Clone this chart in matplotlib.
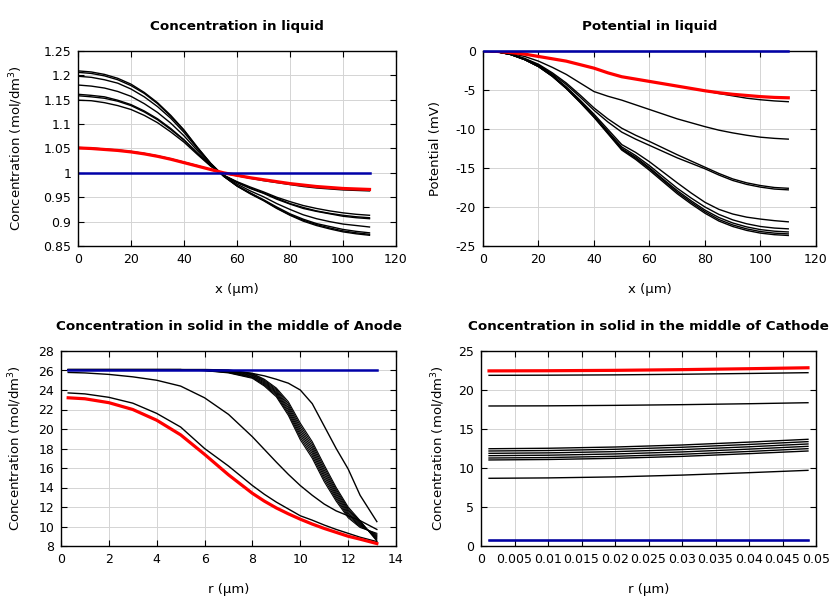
import matplotlib
matplotlib.use("Agg")
import matplotlib.pyplot as plt
from matplotlib.ticker import FuncFormatter

plt.rcParams['font.family'] = ['DejaVu Sans']
plt.rcParams['axes.unicode_minus'] = False

# ---------------- Panel 1: Concentration in liquid ----------------
x_liq = [0.5, 5, 10, 15, 20, 25, 30, 35, 40, 45, 50, 55, 60, 65, 70, 75, 80, 85, 90, 95, 100, 105, 110]
cl_a = [1.209, 1.207, 1.202, 1.194, 1.182, 1.165, 1.144, 1.118, 1.088, 1.053, 1.020,
        0.993, 0.973, 0.957, 0.943, 0.927, 0.913, 0.901, 0.892, 0.885, 0.879, 0.875, 0.872]
cl_b = [1.206, 1.204, 1.199, 1.191, 1.179, 1.163, 1.142, 1.116, 1.087, 1.052, 1.020,
        0.993, 0.973, 0.958, 0.944, 0.928, 0.914, 0.903, 0.894, 0.887, 0.881, 0.877, 0.874]
cl_c = [1.198, 1.196, 1.191, 1.184, 1.172, 1.156, 1.136, 1.112, 1.083, 1.050, 1.019,
        0.993, 0.974, 0.959, 0.945, 0.930, 0.916, 0.905, 0.896, 0.890, 0.884, 0.880, 0.877]
cl_d = [1.180, 1.178, 1.174, 1.167, 1.157, 1.142, 1.124, 1.102, 1.076, 1.046, 1.017,
        0.994, 0.977, 0.963, 0.951, 0.937, 0.925, 0.914, 0.906, 0.900, 0.895, 0.892, 0.889]
cl_e = [1.161, 1.159, 1.156, 1.149, 1.140, 1.127, 1.111, 1.091, 1.068, 1.041, 1.015,
        0.995, 0.980, 0.968, 0.958, 0.946, 0.936, 0.927, 0.921, 0.916, 0.911, 0.908, 0.906]
cl_f = [1.158, 1.156, 1.153, 1.147, 1.138, 1.125, 1.109, 1.089, 1.067, 1.040, 1.015,
        0.995, 0.981, 0.969, 0.959, 0.948, 0.937, 0.929, 0.922, 0.917, 0.913, 0.910, 0.908]
cl_g = [1.149, 1.148, 1.144, 1.138, 1.130, 1.118, 1.103, 1.084, 1.063, 1.038, 1.014,
        0.995, 0.982, 0.971, 0.961, 0.950, 0.941, 0.933, 0.927, 0.922, 0.918, 0.915, 0.913]
cl_h = [1.052, 1.051, 1.049, 1.047, 1.044, 1.040, 1.035, 1.029, 1.022, 1.015, 1.007,
        0.999, 0.994, 0.989, 0.984, 0.980, 0.976, 0.972, 0.969, 0.967, 0.965, 0.964, 0.963]
cl_red = [1.051, 1.050, 1.048, 1.046, 1.043, 1.039, 1.034, 1.028, 1.021, 1.014, 1.007,
          1.000, 0.995, 0.990, 0.986, 0.982, 0.978, 0.975, 0.972, 0.970, 0.968, 0.967, 0.966]
cl_blue_x = [0.5, 110]
cl_blue = [1.0, 1.0]

# ---------------- Panel 2: Potential in liquid ----------------
pl_red = [0, -0.05, -0.2, -0.4, -0.7, -1.0, -1.3, -1.75, -2.2, -2.8, -3.3,
          -3.6, -3.9, -4.2, -4.5, -4.8, -5.1, -5.35, -5.55, -5.7, -5.85, -5.95, -6.0]
pl_1 = [0, -0.05, -0.2, -0.4, -0.7, -1.0, -1.3, -1.75, -2.2, -2.8, -3.3,
        -3.6, -3.9, -4.2, -4.5, -4.8, -5.1, -5.45, -5.75, -6.05, -6.25, -6.4, -6.5]
pl_2 = [0, -0.07, -0.3, -0.7, -1.3, -2.1, -3.0, -4.1, -5.2, -5.8, -6.3,
        -6.9, -7.5, -8.1, -8.7, -9.2, -9.7, -10.15, -10.5, -10.8, -11.05, -11.2, -11.3]
pl_3 = [0, -0.1, -0.38, -0.95, -1.7, -2.8, -4.1, -5.65, -7.3, -8.7, -9.9,
        -10.8, -11.6, -12.45, -13.3, -14.1, -14.9, -15.7, -16.4, -16.9, -17.25, -17.5, -17.6]
pl_4 = [0, -0.1, -0.4, -1.0, -1.8, -2.95, -4.3, -5.9, -7.6, -9.1, -10.4,
        -11.3, -12.1, -12.9, -13.7, -14.4, -15.1, -15.9, -16.6, -17.1, -17.45, -17.7, -17.8]
pl_5 = [0, -0.1, -0.45, -1.05, -1.9, -3.1, -4.6, -6.3, -8.1, -10.05, -12.0,
        -13.0, -14.2, -15.55, -16.9, -18.2, -19.4, -20.3, -20.9, -21.3, -21.55, -21.75, -21.9]
pl_6 = [0, -0.1, -0.45, -1.1, -1.95, -3.15, -4.7, -6.4, -8.3, -10.3, -12.3,
        -13.4, -14.7, -16.15, -17.6, -18.85, -20.0, -20.95, -21.65, -22.15, -22.5, -22.7, -22.8]
pl_7 = [0, -0.1, -0.45, -1.1, -2.0, -3.2, -4.75, -6.5, -8.4, -10.45, -12.5,
        -13.6, -14.95, -16.45, -17.9, -19.2, -20.4, -21.35, -22.05, -22.55, -22.9, -23.1, -23.2]
pl_8 = [0, -0.1, -0.45, -1.1, -2.0, -3.25, -4.8, -6.55, -8.45, -10.5, -12.6,
        -13.75, -15.1, -16.6, -18.1, -19.4, -20.6, -21.6, -22.3, -22.8, -23.15, -23.35, -23.45]
pl_9 = [0, -0.1, -0.45, -1.1, -2.0, -3.25, -4.8, -6.6, -8.5, -10.6, -12.7,
        -13.9, -15.3, -16.8, -18.3, -19.6, -20.8, -21.8, -22.5, -23.0, -23.35, -23.55, -23.65]
pl_blue_x = [0.5, 110]
pl_blue = [0.0, 0.0]

# ---------------- Panel 3: Anode solid ----------------
r_an = [0.3, 1, 2, 3, 4, 5, 6, 7, 8, 8.5, 9, 9.5, 10, 10.5, 11, 11.5, 12, 12.5, 13.2]
an_b1 = [26.1, 26.1, 26.1, 26.1, 26.1, 26.1, 26.08, 26.00, 25.70, 25.10, 24.20, 22.80, 20.60, 18.70, 16.30, 14.00, 12.00, 10.60, 8.50]
an_b2 = [26.1, 26.1, 26.1, 26.1, 26.1, 26.1, 26.07, 25.96, 25.63, 25.00, 24.07, 22.60, 20.36, 18.46, 16.06, 13.80, 11.84, 10.50, 8.61]
an_b3 = [26.1, 26.1, 26.1, 26.1, 26.1, 26.1, 26.05, 25.93, 25.56, 24.90, 23.94, 22.40, 20.11, 18.21, 15.81, 13.60, 11.69, 10.40, 8.73]
an_b4 = [26.1, 26.1, 26.1, 26.1, 26.1, 26.1, 26.04, 25.89, 25.49, 24.80, 23.81, 22.20, 19.87, 17.97, 15.57, 13.40, 11.53, 10.30, 8.84]
an_b5 = [26.1, 26.1, 26.1, 26.1, 26.1, 26.1, 26.02, 25.86, 25.41, 24.70, 23.69, 22.00, 19.63, 17.73, 15.33, 13.20, 11.37, 10.20, 8.96]
an_b6 = [26.1, 26.1, 26.1, 26.1, 26.1, 26.1, 26.01, 25.82, 25.34, 24.60, 23.56, 21.80, 19.39, 17.49, 15.09, 13.00, 11.21, 10.10, 9.07]
an_b7 = [26.1, 26.1, 26.1, 26.1, 26.1, 26.1, 26.00, 25.79, 25.27, 24.50, 23.43, 21.60, 19.14, 17.24, 14.84, 12.80, 11.06, 10.00, 9.19]
an_b8 = [26.1, 26.1, 26.1, 26.1, 26.1, 26.1, 25.98, 25.75, 25.20, 24.40, 23.30, 21.40, 18.90, 17.00, 14.60, 12.60, 10.90, 9.90, 9.30]
an_right = [26.1, 26.1, 26.1, 26.1, 26.1, 26.1, 26.1, 26.05, 25.7, 25.45, 25.1, 24.7, 24.0, 22.6, 20.3, 18.0, 15.9, 13.2, 10.5]
an_mid = [25.8, 25.75, 25.6, 25.35, 25.0, 24.4, 23.2, 21.5, 19.2, 17.9, 16.6, 15.35, 14.2, 13.2, 12.3, 11.6, 11.1, 10.6, 9.7]
an_low = [23.7, 23.6, 23.25, 22.65, 21.6, 20.2, 18.0, 16.2, 14.2, 13.3, 12.5, 11.8, 11.1, 10.65, 10.15, 9.7, 9.3, 8.9, 8.45]
an_red = [23.2, 23.1, 22.7, 22.0, 20.9, 19.4, 17.4, 15.3, 13.4, 12.6, 11.9, 11.3, 10.75, 10.25, 9.8, 9.4, 9.0, 8.7, 8.25]
an_blue_x = [0.3, 13.2]
an_blue = [26.1, 26.1]

# ---------------- Panel 4: Cathode solid ----------------
r_ca = [0.0012, 0.01, 0.02, 0.03, 0.04, 0.0488]
ca_red = [22.45, 22.47, 22.52, 22.61, 22.73, 22.85]
ca_1 = [21.88, 21.90, 21.94, 22.02, 22.12, 22.22]
ca_2 = [17.95, 17.97, 18.03, 18.12, 18.24, 18.37]
ca_3 = [12.47, 12.53, 12.69, 12.95, 13.32, 13.68]
ca_4 = [12.18, 12.24, 12.40, 12.66, 13.02, 13.38]
ca_5 = [11.88, 11.94, 12.10, 12.36, 12.72, 13.08]
ca_6 = [11.58, 11.64, 11.80, 12.06, 12.42, 12.78]
ca_7 = [11.28, 11.34, 11.50, 11.76, 12.12, 12.48]
ca_8 = [11.03, 11.09, 11.24, 11.49, 11.84, 12.18]
ca_9 = [8.68, 8.73, 8.86, 9.09, 9.40, 9.70]
ca_10 = [0.75, 0.75, 0.75, 0.75, 0.75, 0.75]
ca_blue_x = [0.0012, 0.0488]
ca_blue = [0.75, 0.75]

BLACK_LW = 1.0
RED = '#ff0000'
RED_LW = 2.3
BLUE = '#0000a8'
BLUE_LW = 1.8
TICK_FS = 9
LABEL_FS = 9.5
TITLE_FS = 9.7

fig = plt.figure(figsize=(8.4, 6), dpi=100)
ax1 = fig.add_axes([78/840, 1-246/600, (396-78)/840, 195/600])
ax2 = fig.add_axes([483/840, 1-246/600, (816-483)/840, 195/600])
ax3 = fig.add_axes([61/840, 1-546/600, (396-61)/840, 195/600])
ax4 = fig.add_axes([481/840, 1-546/600, (816-481)/840, 195/600])

gfmt = FuncFormatter(lambda v, p: ('%g' % round(v, 6)))


def style(ax, title, xlabel, ylabel, xlim, xticks, ylim, yticks, ylabelpad):
    ax.set_xlim(*xlim)
    ax.set_ylim(*ylim)
    ax.set_xticks(xticks)
    ax.set_yticks(yticks)
    ax.xaxis.set_major_formatter(gfmt)
    ax.yaxis.set_major_formatter(gfmt)
    ax.grid(True, color='#d4d4d4', linewidth=0.7)
    ax.set_axisbelow(True)
    for s in ax.spines.values():
        s.set_linewidth(1.0)
        s.set_color('black')
    ax.tick_params(direction='in', top=True, right=True, length=4, width=0.8,
                   labelsize=TICK_FS, pad=5)
    ax.set_title(title, fontsize=TITLE_FS, fontweight='bold', pad=15)
    ax.set_xlabel(xlabel, fontsize=LABEL_FS, labelpad=12)
    ax.set_ylabel(ylabel, fontsize=LABEL_FS, labelpad=ylabelpad)


for c in [cl_a, cl_b, cl_c, cl_d, cl_e, cl_f, cl_g, cl_h]:
    ax1.plot(x_liq, c, color='black', lw=BLACK_LW)
ax1.plot(x_liq, cl_red, color=RED, lw=RED_LW)
ax1.plot(cl_blue_x, cl_blue, color=BLUE, lw=BLUE_LW)
style(ax1, 'Concentration in liquid', 'x (µm)', 'Concentration (mol/dm$^3$)',
      (0, 120), [0, 20, 40, 60, 80, 100, 120], (0.85, 1.25),
      [0.85, 0.9, 0.95, 1.0, 1.05, 1.1, 1.15, 1.2, 1.25], 13)

for c in [pl_1, pl_2, pl_3, pl_4, pl_5, pl_6, pl_7, pl_8, pl_9]:
    ax2.plot(x_liq, c, color='black', lw=BLACK_LW)
ax2.plot(x_liq, pl_red, color=RED, lw=RED_LW)
ax2.plot(pl_blue_x, pl_blue, color=BLUE, lw=BLUE_LW, clip_on=False, zorder=5)
style(ax2, 'Potential in liquid', 'x (µm)', 'Potential (mV)',
      (0, 120), [0, 20, 40, 60, 80, 100, 120], (-25, 0),
      [-25, -20, -15, -10, -5, 0], 10)

for c in [an_b1, an_b2, an_b3, an_b4, an_b5, an_b6, an_b7, an_b8]:
    ax3.plot(r_an, c, color='black', lw=0.8)
for c in [an_right, an_mid, an_low]:
    ax3.plot(r_an, c, color='black', lw=BLACK_LW)
ax3.plot(r_an, an_red, color=RED, lw=RED_LW)
ax3.plot(an_blue_x, an_blue, color=BLUE, lw=BLUE_LW)
style(ax3, 'Concentration in solid in the middle of Anode', 'r (µm)',
      'Concentration (mol/dm$^3$)', (0, 14), [0, 2, 4, 6, 8, 10, 12, 14], (8, 28),
      [8, 10, 12, 14, 16, 18, 20, 22, 24, 26, 28], 10)

for c in [ca_1, ca_2, ca_3, ca_4, ca_5, ca_6, ca_7, ca_8, ca_9, ca_10]:
    ax4.plot(r_ca, c, color='black', lw=BLACK_LW)
ax4.plot(r_ca, ca_red, color=RED, lw=RED_LW)
ax4.plot(ca_blue_x, ca_blue, color=BLUE, lw=BLUE_LW)
style(ax4, 'Concentration in solid in the middle of Cathode', 'r (µm)',
      'Concentration (mol/dm$^3$)', (0, 0.05),
      [0, 0.005, 0.01, 0.015, 0.02, 0.025, 0.03, 0.035, 0.04, 0.045, 0.05], (0, 25),
      [0, 5, 10, 15, 20, 25], 8)

fig.savefig('out.png', dpi=100)
